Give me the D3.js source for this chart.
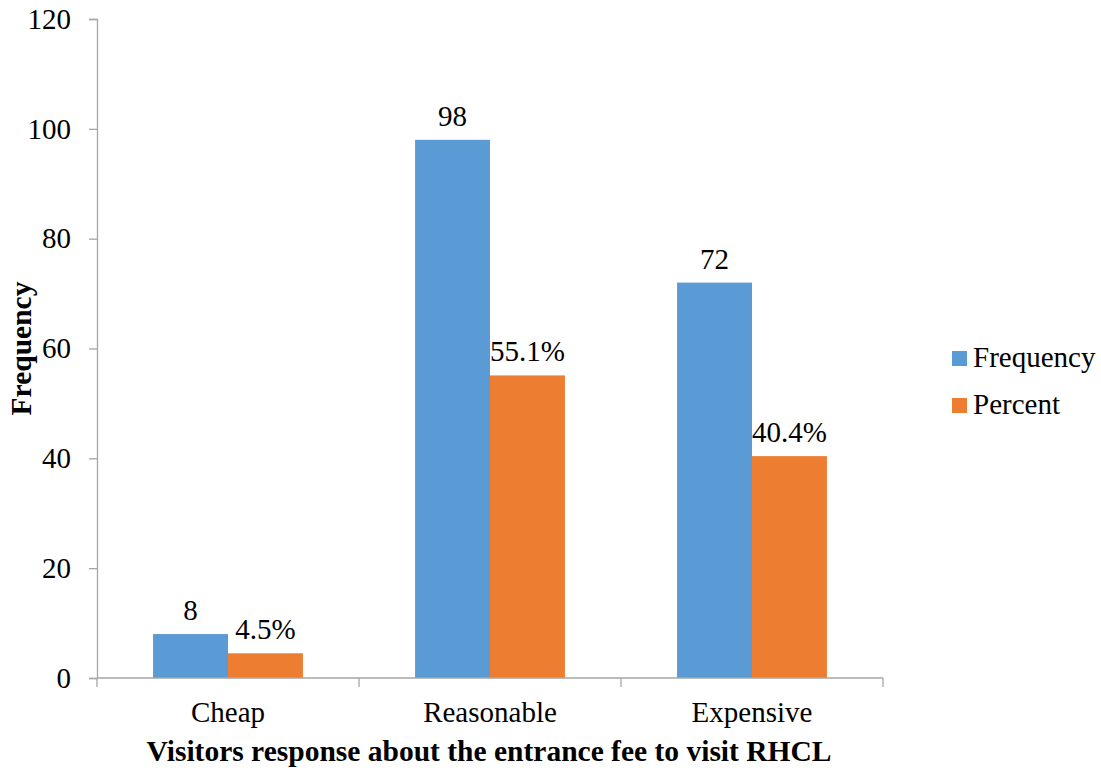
<!DOCTYPE html>
<html>
<head>
<meta charset="utf-8">
<script src="https://cdn.jsdelivr.net/npm/d3@7"></script>
<style>
  body { margin: 0; background: #fff; }
</style>
</head>
<body>
<script>
// chart data
var categories = ["Cheap", "Reasonable", "Expensive"];
var seriesNames = ["Frequency", "Percent"];
var frequency = [8, 98, 72];
var percent = [4.5, 55.1, 40.4];
var yTicks = [0, 20, 40, 60, 80, 100, 120];

var colors = {Frequency: "#5B9BD5", Percent: "#ED7D31"};
var W = 1101, H = 772;
var mLeft = 97, mRight = 883, mTop = 19, mBottom = 678;
var fs = "29px";
var ff = "'Liberation Serif', 'Times New Roman', Times, serif";

var svg = d3.select("body").append("svg")
  .attr("width", W)
  .attr("height", H);

var x0 = d3.scaleBand()
  .domain(categories)
  .range([mLeft, mRight]);

var bw = x0.bandwidth();
var x1 = d3.scaleBand()
  .domain(seriesNames)
  .range([bw * 0.214, bw * 0.786]);

var y = d3.scaleLinear()
  .domain([0, 120])
  .range([mBottom, mTop]);

var rows = categories.map(function (c, i) {
  return {cat: c, values: [
    {name: "Frequency", v: frequency[i], label: String(frequency[i])},
    {name: "Percent", v: percent[i], label: percent[i].toFixed(1) + "%"}
  ]};
});

// y axis
var yAxis = d3.axisLeft(y).tickValues(yTicks).tickSize(8).tickPadding(18);
var gy = svg.append("g")
  .attr("transform", "translate(" + mLeft + ",0)")
  .call(yAxis)
  .attr("font-family", ff)
  .attr("font-size", fs);
gy.select(".domain").attr("stroke", "#a6a6a6").attr("stroke-width", 1.3);
gy.selectAll(".tick line").attr("stroke", "#a6a6a6").attr("stroke-width", 1.3);
gy.selectAll(".tick text").attr("fill", "#000");

// bars
var groups = svg.selectAll(".grp")
  .data(rows)
  .enter().append("g")
  .attr("class", "grp")
  .attr("transform", function (d) { return "translate(" + x0(d.cat) + ",0)"; });

groups.selectAll("rect")
  .data(function (d) { return d.values; })
  .enter().append("rect")
  .attr("x", function (d) { return x1(d.name); })
  .attr("y", function (d) { return y(d.v); })
  .attr("width", x1.bandwidth())
  .attr("height", function (d) { return y(0) - y(d.v); })
  .attr("fill", function (d) { return colors[d.name]; });

groups.selectAll(".lbl")
  .data(function (d) { return d.values; })
  .enter().append("text")
  .attr("class", "lbl")
  .attr("x", function (d) { return x1(d.name) + x1.bandwidth() / 2; })
  .attr("y", function (d) { return y(d.v) - 14; })
  .attr("text-anchor", "middle")
  .attr("font-family", ff)
  .attr("font-size", fs)
  .text(function (d) { return d.label; });

// x axis: ticks between categories
var gx = svg.append("g").attr("transform", "translate(0," + mBottom + ")");
gx.append("line")
  .attr("x1", mLeft).attr("x2", mRight)
  .attr("stroke", "#a6a6a6").attr("stroke-width", 1.3);
var bounds = categories.map(function (c) { return x0(c); }).concat([mRight]);
gx.selectAll(".xt")
  .data(bounds)
  .enter().append("line")
  .attr("x1", function (d) { return d; }).attr("x2", function (d) { return d; })
  .attr("y1", 0).attr("y2", 9)
  .attr("stroke", "#a6a6a6").attr("stroke-width", 1.3);
gx.selectAll(".xl")
  .data(categories)
  .enter().append("text")
  .attr("x", function (d) { return x0(d) + bw / 2; })
  .attr("y", 44)
  .attr("text-anchor", "middle")
  .attr("font-family", ff)
  .attr("font-size", fs)
  .text(function (d) { return d; });

// axis titles
svg.append("text")
  .attr("x", (mLeft + mRight) / 2 - 1)
  .attr("y", 761)
  .attr("text-anchor", "middle")
  .attr("font-family", ff)
  .attr("font-size", "29.5px")
  .attr("font-weight", "bold")
  .text("Visitors response about the entrance fee to visit RHCL");

svg.append("text")
  .attr("transform", "translate(31," + ((mTop + mBottom) / 2) + ") rotate(-90)")
  .attr("text-anchor", "middle")
  .attr("font-family", ff)
  .attr("font-size", "29.5px")
  .attr("font-weight", "bold")
  .text("Frequency");

// legend
var legend = svg.selectAll(".leg")
  .data(seriesNames)
  .enter().append("g")
  .attr("transform", function (d, i) { return "translate(952," + (351 + i * 47) + ")"; });
legend.append("rect")
  .attr("width", 15).attr("height", 15)
  .attr("fill", function (d) { return colors[d]; });
legend.append("text")
  .attr("x", 21).attr("y", 16)
  .attr("font-family", ff)
  .attr("font-size", fs)
  .text(function (d) { return d; });
</script>
</body>
</html>
